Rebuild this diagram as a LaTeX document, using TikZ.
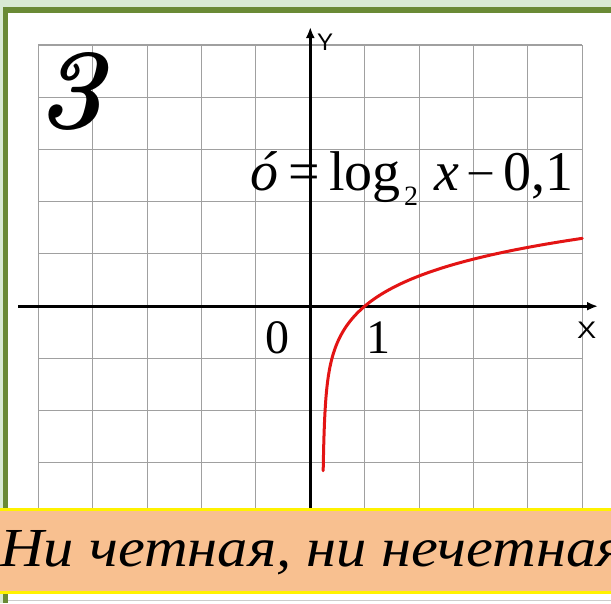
\documentclass[tikz,border=0pt]{standalone}
\usepackage{fontspec}
\setmainfont{Liberation Serif}
\newfontfamily\sansf{Liberation Sans}
\newfontfamily\lmfont{Latin Modern Roman}
\usetikzlibrary{arrows.meta}
\definecolor{lightgreen}{RGB}{217,234,211}
\definecolor{olive}{RGB}{106,138,53}
\definecolor{peach}{RGB}{248,192,144}
\definecolor{gridgray}{RGB}{160,160,160}
\definecolor{curvered}{RGB}{227,20,20}
\tikzset{
  gridline/.style={draw=gridgray, line width=1.1pt},
  axisline/.style={draw=black, line width=3.2pt, -{Latex[length=11pt,width=9pt]}},
  formula/.style={anchor=base west, inner sep=0pt, font=\fontsize{56}{60}\selectfont},
  axlabel/.style={anchor=base west, inner sep=0pt, font=\sansf\fontsize{24}{26}\selectfont},
  ticklabel/.style={anchor=base west, inner sep=0pt, font=\fontsize{48}{50}\selectfont},
}
\begin{document}
\begin{tikzpicture}[x=1pt,y=-1pt]
\useasboundingbox (0,0) rectangle (611,603);
% frame
\fill[lightgreen] (0,0) rectangle (611,603);
\fill[olive] (2.7,7.3) rectangle (611,603);
\fill[white] (8,12.7) rectangle (611,603);
% grid
\foreach \k in {0,...,10} {
  \draw[gridline] ({38.3+\k*54.4},45) -- ({38.3+\k*54.4},512);
}
\foreach \j in {0,...,9} {
  \draw[gridline] (38.3,{45+\j*52.2}) -- (582.3,{45+\j*52.2});
}
% axes
\coordinate (xs) at (18,306.2);
\coordinate (xe) at (598,306.2);
\coordinate (ys) at (310.3,520);
\coordinate (ye) at (310.3,27);
\draw[axisline] (xs) -- (xe);
\draw[axisline] (ys) -- (ye);
\node[axlabel] (ylab) at (317,50) {Y};
\node[axlabel, xscale=1.2] (xlab) at (577,338) {X};
\node[ticklabel] (zero) at (265,353) {0};
\node[ticklabel] (one) at (366,353) {1};
% curve
\draw[curvered, line width=3pt, line cap=round, line join=round]
  plot[domain=-3.297:1.569, samples=140, smooth, variable=\t]
  ({310.3+54.4*(0.2+exp(\t))}, {306.2-52.2*(0.756*ln(0.2+exp(\t)) - 0.08*(exp(-\t)-1.25))});
% formula
\node[formula] (o) at (250,190) {\itshape ó};
\node[formula] (eq) at (288,190) {=};
\node[formula] (log) at (329,190) {log};
\node[formula, font=\fontsize{28}{30}\selectfont] (sub) at (404,205) {2};
\node[formula] (xv) at (434,190) {\itshape x};
\node[formula, font=\fontsize{46}{50}\selectfont] (minus) at (469,184) {–};
\node[formula] (num) at (503,190) {0,1};
% big 3
\node[anchor=base west, inner sep=0pt, font=\lmfont\bfseries\itshape\fontsize{115}{120}\selectfont] (three) at (36,128) {3};
% banner
\fill[peach] (0,509) rectangle (611,593);
\draw[yellow, line width=2.6pt] (0,509.6) -- (611,509.6);
\draw[yellow, line width=2.6pt] (0,592.6) -- (611,592.6);
\node[anchor=base west, inner sep=0pt, xscale=1.1, font=\itshape\fontsize{55}{58}\selectfont] (banner) at (0,566.7) {Ни четная, ни нечетная};
\draw[gray!40, line width=0.8pt] (8,600) -- (611,600);
\end{tikzpicture}
\end{document}
